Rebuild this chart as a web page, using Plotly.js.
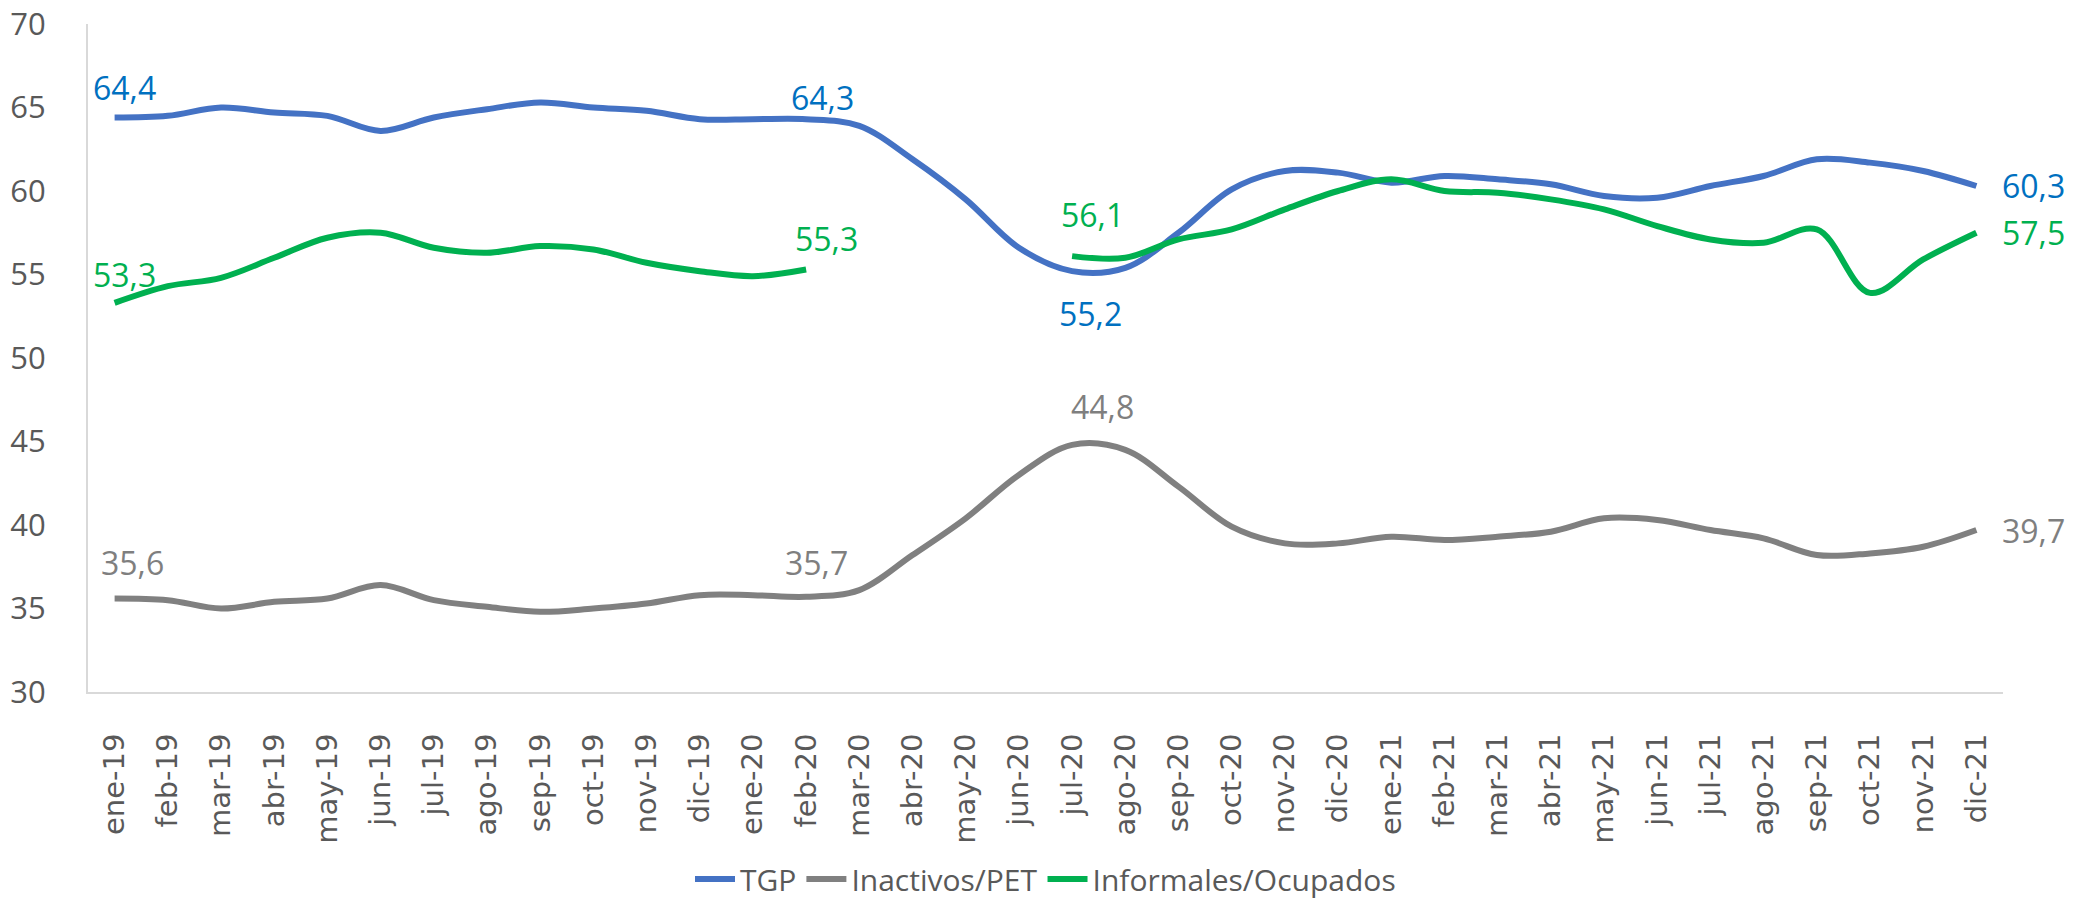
<!DOCTYPE html>
<html><head><meta charset="utf-8">
<script src="https://cdn.plot.ly/plotly-3.0.1.min.js"></script>
<style>html,body{margin:0;padding:0;background:#fff}#chart{width:2084px;height:909px}</style>
</head><body><div id="chart"></div>
<script>
const months = ['ene-19','feb-19','mar-19','abr-19','may-19','jun-19','jul-19','ago-19','sep-19','oct-19','nov-19','dic-19',
  'ene-20','feb-20','mar-20','abr-20','may-20','jun-20','jul-20','ago-20','sep-20','oct-20','nov-20','dic-20',
  'ene-21','feb-21','mar-21','abr-21','may-21','jun-21','jul-21','ago-21','sep-21','oct-21','nov-21','dic-21'];

const tgp = [64.4,64.5,65.0,64.7,64.5,63.6,64.4,64.9,65.3,65.0,64.8,64.3,
  64.3,64.3,63.9,61.9,59.5,56.6,55.2,55.4,57.5,60.1,61.2,61.1,
  60.5,60.9,60.7,60.4,59.7,59.6,60.3,60.9,61.9,61.7,61.2,60.3];

const inactivos = [35.6,35.5,35.0,35.4,35.6,36.4,35.5,35.1,34.8,35.0,35.3,35.8,
  35.8,35.7,36.1,38.2,40.4,43.0,44.8,44.5,42.3,39.9,38.9,38.9,
  39.3,39.1,39.3,39.6,40.4,40.3,39.7,39.2,38.2,38.3,38.7,39.7];

const informales = [53.3,54.3,54.8,56.0,57.2,57.5,56.6,56.3,56.7,56.5,55.7,55.2,
  54.9,55.3,null,null,null,null,56.1,56.0,57.1,57.7,58.9,60.0,
  60.7,60.0,59.9,59.5,58.9,57.9,57.1,56.9,57.7,53.9,55.9,57.5];

const seriesNames = ['TGP','Inactivos/PET','Informales/Ocupados'];
const tgpLabelIdx = [0, 13, 18, 35];
const inactivosLabelIdx = [0, 13, 18, 35];
const informalesLabelIdx = [0, 13, 18, 35];

const FONT = 'Open Sans, Lato, sans-serif';
const fmt = v => v.toFixed(1).replace('.', ',');

const lineColors = ['#4472C4', '#808080', '#00B050'];
const labelColors = ['#0070C0', '#7F7F7F', '#00B050'];
const allSeries = [tgp, inactivos, informales];

const traces = allSeries.map((ys, k) => ({
  type: 'scatter', mode: 'lines', name: seriesNames[k],
  x: months, y: ys, connectgaps: false,
  line: {color: lineColors[k], width: 6, shape: 'spline', smoothing: 1},
  hoverinfo: 'x+y'
}));

// label placement: [dx, dy, anchor]
const placements = [
  [[10, 30, 'c'], [16, 22, 'c'], [18, -42, 'c'], [24, 0, 'l']],
  [[18, 36, 'c'], [10, 34, 'c'], [30, 38, 'c'], [24, 0, 'l']],
  [[10, 28, 'c'], [20, 31, 'c'], [20, 42, 'c'], [24, 0, 'l']]
];
const labelIdx = [tgpLabelIdx, inactivosLabelIdx, informalesLabelIdx];

const annotations = [];
labelIdx.forEach((idxs, k) => {
  idxs.forEach((i, j) => {
    const p = placements[k][j];
    annotations.push({
      x: months[i], y: allSeries[k][i], xref: 'x', yref: 'y',
      text: fmt(allSeries[k][i]), showarrow: false,
      xanchor: p[2] === 'l' ? 'left' : 'center', yanchor: 'middle',
      xshift: p[0], yshift: p[1],
      font: {family: FONT, size: 32, color: labelColors[k]}
    });
  });
});

const layout = {
  width: 2084, height: 909,
  margin: {l: 88, r: 81, t: 24, b: 217, autoexpand: false},
  paper_bgcolor: '#fff', plot_bgcolor: '#fff',
  showlegend: true,
  legend: {orientation: 'h', x: 0.5, xanchor: 'center', y: -0.28, yanchor: 'middle',
    font: {family: FONT, size: 30, color: '#595959'}, itemwidth: 40, tracegroupgap: 0},
  xaxis: {type: 'category', range: [-0.5, 35.5], showline: true, linecolor: '#D9D9D9', linewidth: 2,
    showgrid: false, zeroline: false, ticks: '', tickangle: -90, ticklabelstandoff: 28, automargin: false,
    tickfont: {family: 'DejaVu Sans, sans-serif', size: 29, color: '#595959'}},
  yaxis: {range: [30, 70], dtick: 5, tick0: 30, showline: true, linecolor: '#D9D9D9', linewidth: 2,
    showgrid: false, zeroline: false, ticks: '', ticklabelstandoff: 34, automargin: false,
    tickfont: {family: FONT, size: 31, color: '#595959'}},
  annotations: annotations
};

Plotly.newPlot('chart', traces, layout, {displayModeBar: false, responsive: false});
</script>
</body></html>
